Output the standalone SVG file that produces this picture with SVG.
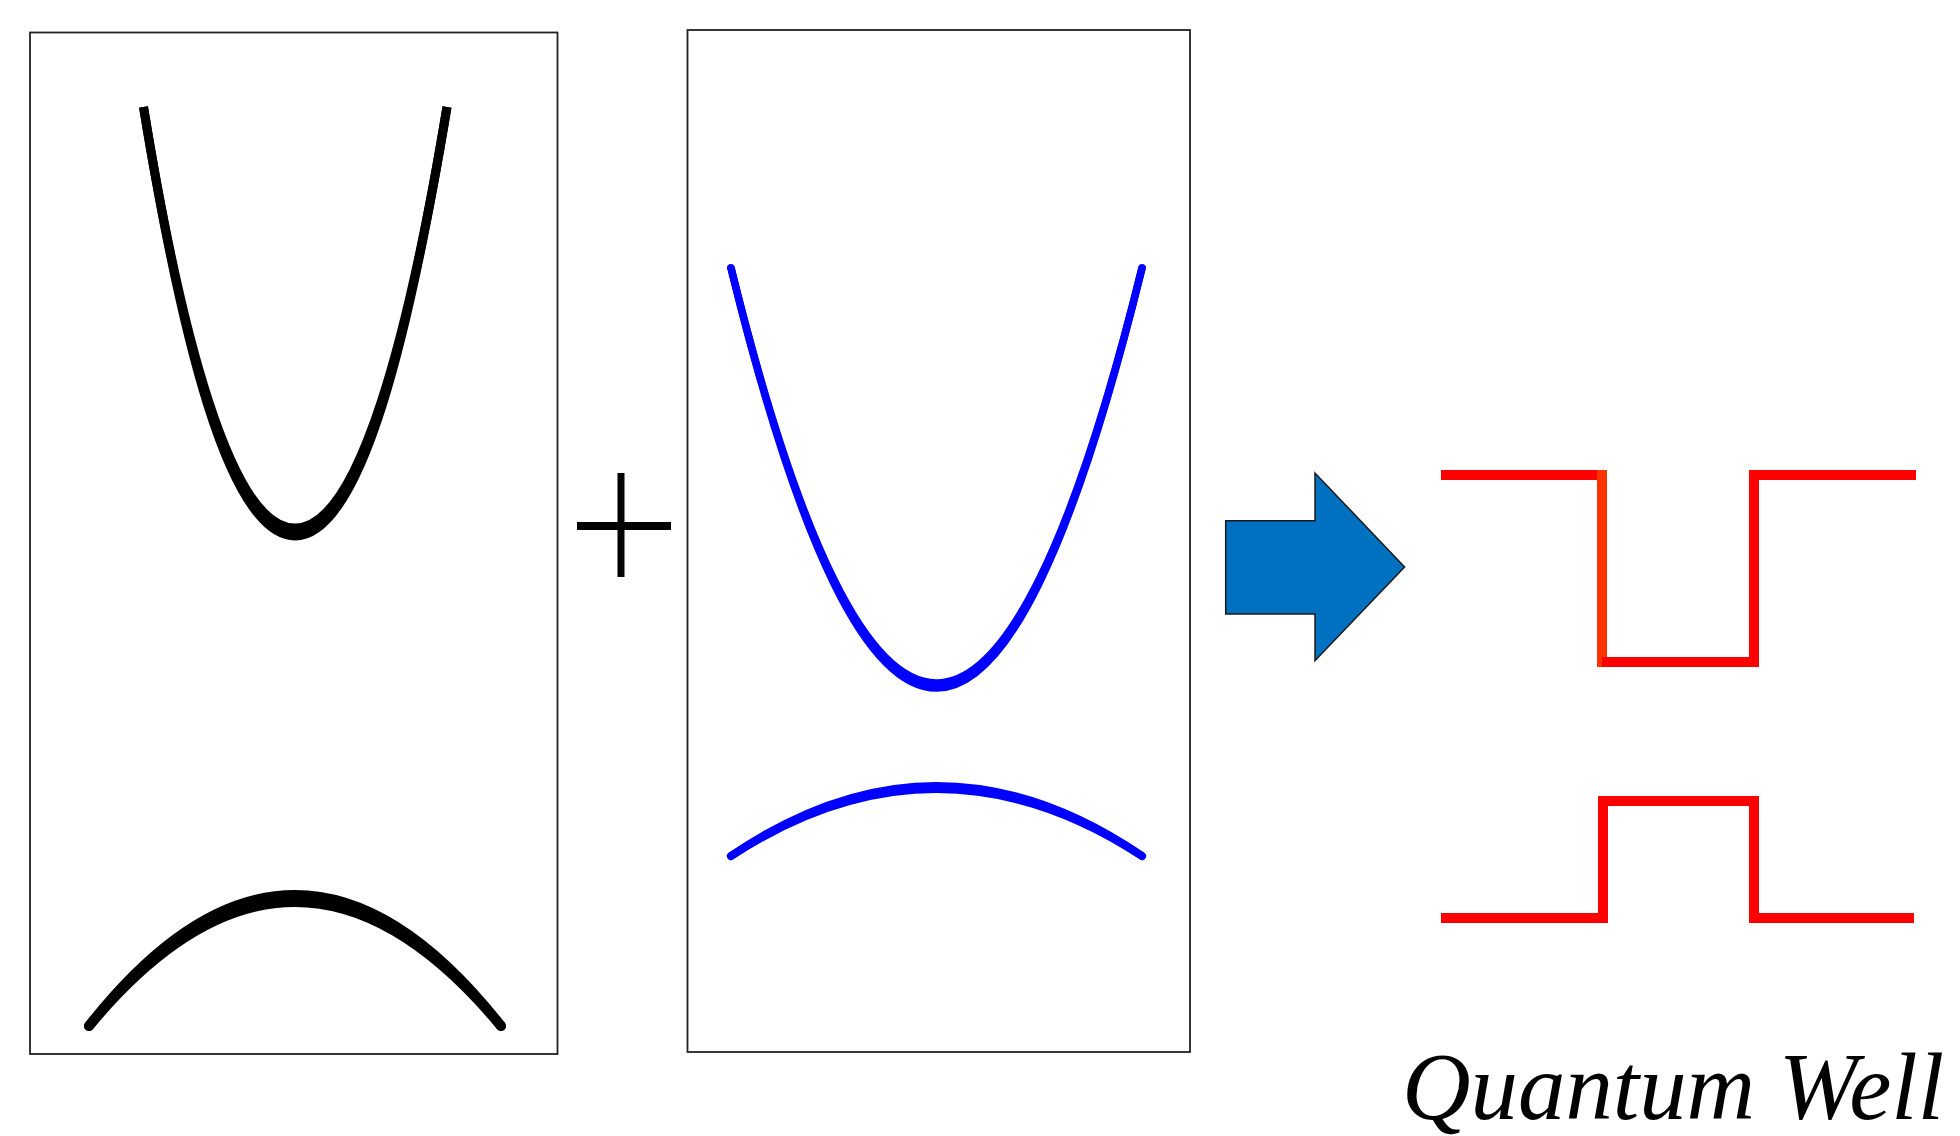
<svg xmlns="http://www.w3.org/2000/svg" width="1960" height="1136" viewBox="0 0 1960 1136">
<style>
.box{fill:none;stroke:#222;stroke-width:1.8}
.blk{fill:none;stroke:#000}
.blu{fill:none;stroke:#0000ff;stroke-linecap:round}
.red{fill:none;stroke:#ff0000;stroke-width:10}
.lbl{font-family:"Liberation Serif","Times New Roman",serif;font-style:italic;font-size:96px;fill:#000}
</style>
<rect width="1960" height="1136" fill="#fff"/>
<g id="panel-left">
<rect class="box" x="30" y="32.5" width="527.5" height="1021.5"/>
<path class="blk" stroke-width="9" d="M143.5,107 C180,330 230,528 295,528 C360,528 410,330 447,107"/>
<path class="blk" stroke-width="9" d="M143.5,107 C180,330 228,536 295,536 C362,536 410,330 447,107"/>
<path class="blk" stroke-width="10" stroke-linecap="round" d="M89,1026 Q295,778 501,1026"/>
<path class="blk" stroke-width="10" stroke-linecap="round" d="M89,1026 Q295,764 501,1026"/>
</g>
<g id="plus">
<rect x="617.5" y="473" width="7" height="104" fill="#000"/>
<rect x="577" y="522" width="94" height="8" fill="#000"/>
</g>
<g id="panel-middle">
<rect class="box" x="687.5" y="30" width="502.5" height="1022"/>
<path class="blu" stroke-width="7.5" d="M731,268 Q936.5,1098 1142,268"/>
<path class="blu" stroke-width="7.5" d="M731,268 Q936.5,1108 1142,268"/>
<path class="blu" stroke-width="8" d="M731,856 Q936.5,722 1142,856"/>
<path class="blu" stroke-width="8" d="M731,856 Q936.5,716 1142,856"/>
</g>
<g id="arrow">
<polygon points="1225.7,520.7 1315,520.7 1315,473 1404.6,567 1315,660.7 1315,614 1225.7,614" fill="#0070c0" stroke="#1a1a1a" stroke-width="1.5" stroke-linejoin="miter"/>
</g>
<g id="quantum-well">
<line class="red" x1="1441" y1="475" x2="1602" y2="475"/>
<line x1="1602" y1="470" x2="1602" y2="667" stroke="#ff3300" stroke-width="10"/>
<line class="red" x1="1602" y1="662" x2="1754" y2="662"/>
<line class="red" x1="1754" y1="667" x2="1754" y2="470"/>
<line class="red" x1="1754" y1="475" x2="1916" y2="475"/>
<line class="red" x1="1441" y1="918" x2="1603" y2="918"/>
<line class="red" x1="1603" y1="923" x2="1603" y2="796"/>
<line class="red" x1="1603" y1="801" x2="1754" y2="801"/>
<line class="red" x1="1754" y1="796" x2="1754" y2="923"/>
<line class="red" x1="1754" y1="918" x2="1914" y2="918"/>
<text class="lbl" x="1402" y="1119" textLength="542" lengthAdjust="spacingAndGlyphs">Quantum Well</text>
</g>
</svg>
